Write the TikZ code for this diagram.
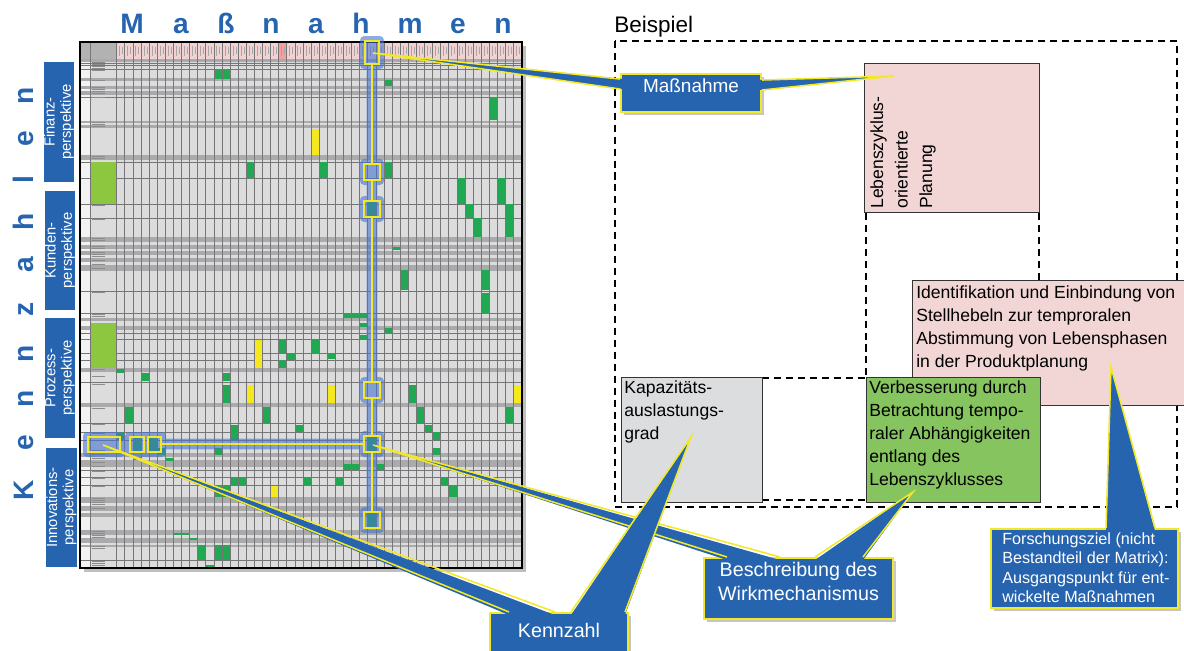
\documentclass[tikz,border=0pt]{standalone}
\usepackage{fontspec}
\setmainfont{Liberation Sans}
\usetikzlibrary{positioning,fit,calc,shadows}

\definecolor{tagblue}{RGB}{38,100,176}
\definecolor{tagyellow}{RGB}{242,232,40}
\definecolor{hlblue}{RGB}{70,115,205}
\definecolor{mbg}{RGB}{220,220,221}
\definecolor{mband}{RGB}{170,170,172}
\definecolor{mline}{RGB}{118,118,120}
\definecolor{mpink}{RGB}{240,210,210}
\definecolor{mgreen}{RGB}{32,168,82}
\definecolor{mlgreen}{RGB}{141,198,63}
\definecolor{myellow}{RGB}{246,232,30}
\definecolor{boxpink}{RGB}{242,214,214}
\definecolor{boxgray}{RGB}{220,221,223}
\definecolor{boxgreen}{RGB}{134,196,96}

\begin{document}
\begin{tikzpicture}[x=0.025cm, y=-0.025cm,
    every node/.style={font=\fontsize{12.5}{16.5}\selectfont},
    bigletter/.style={font=\fontsize{20}{20}\selectfont\bfseries, text=tagblue, inner sep=0pt, anchor=base},
    persp/.style={fill=tagblue, inner sep=0pt},
    persptext/.style={text=white, rotate=90, align=center, inner sep=0pt, font=\fontsize{10.5}{11.5}\selectfont},
    tagbox/.style={fill=tagblue, draw=tagyellow, line width=1.4pt, inner sep=0pt, text=white, align=center,
      drop shadow={shadow xshift=2pt, shadow yshift=-2pt, opacity=0.45}},
    tagarm/.style={fill=tagblue},
    tagedge/.style={draw=tagyellow, line width=1.1pt},
    exbox/.style={draw=black!80, line width=0.6pt, inner sep=0pt},
    extext/.style={align=left, inner sep=0pt, anchor=north west},
    dashline/.style={line width=1.1pt, dash pattern=on 5pt off 3.5pt},
    hlbox/.style={draw=tagyellow, line width=1pt}]
  \clip (0,0) rectangle (1184,651);

  \foreach \x/\l in {132/M,181/a,226/ß,271/n,316/a,361/h,410/m,458/e,503/n}
    \node[bigletter] (ma\x) at (\x,33) {\l};
  \foreach \y/\l in {490/K,443/e,399/n,354/n,309/z,265/a,222/h,180/l,139/e,96/n}
    \node[bigletter, rotate=90] (kz\y) at (33,\y) {\l};

  \node[persp, fit={(44,62) (74,182)}] (fin) {};
  \node[persptext] (fintxt) at (fin.center) {Finanz-\\perspektive};
  \node[persp, fit={(45,191) (75,310)}] (kun) {};
  \node[persptext] (kuntxt) at (kun.center) {Kunden-\\perspektive};
  \node[persp, fit={(45,318) (75,438)}] (pro) {};
  \node[persptext] (protxt) at (pro.center) {Prozess-\\perspektive};
  \node[persp, fit={(46,448) (77,567)}] (inn) {};
  \node[persptext] (inntxt) at (inn.center) {Innovations-\\perspektive};

  \path[fill=mbg, drop shadow={shadow xshift=3pt, shadow yshift=-3pt, opacity=0.5}] (80,42) rectangle (522,568);
  \fill[black!5] (81,59) rectangle (90,567);
  \fill[black!30] (81,43) rectangle (117,59);
  \fill[mpink] (117,43) rectangle (522,59);
  \fill[red!25!mpink] (279,43) rectangle (287,59);
  \foreach \a/\b in {59/62,78/81,86/89,91/95,121/123,125/128,155/160,237/242,245/249,251/255,258/262,265/271,
      318/321,326/330,368/372,403/407,453/457,460/467,497/503,506/511,513/517,530/535,538/543,545/547}
    \fill[mband] (81,\a) rectangle (522,\b);
  \foreach \y in {63,65,69,97,162,178,204,218,291,313,333,339,353,360,382,423,432,440,470,477,485,560}
    \draw[mline, line width=0.4pt] (81,\y) -- (522,\y);
  \foreach \y in {62,64,66,68,70,80,87,89,91,93,97,122,124,126,156,158,163,179,205,219,238,240,246,248,252,254,
      256,260,264,268,292,314,316,325,329,334,341,354,361,369,376,384,408,424,433,450,454,458,462,466,471,478,
      486,498,500,502,504,508,531,533,535,537,546,548,561,563,565}
    \draw[black!45, line width=0.35pt] (92,\y) -- (105,\y);
  \fill[mlgreen] (91,162) rectangle (117,204);
  \fill[mlgreen] (91,323) rectangle (117,368);
  \foreach \c/\a/\b/\n in {12/69/79/2,16/162/178/1,33/80/86/1,46/97/120/1,25/162/178/1,33/162/178/1,42/178/204/1,
      47/178/204/1,43/204/218/1,44/218/237/1,48/204/237/1,34/247/250/1,35/270/290/1,45/270/290/1,45/293/313/1,
      28/313/318/3,30/323/327/1,33/328/333/1,30/335/339/1,24/340/353/1,26/354/359/1,36/385/403/1,37/407/423/1,
      48/407/423/1,38/425/432/1,39/432/440/1,22/425/432/1,39/448/455/1,28/464/470/2,32/464/470/1,23/477/486/1,
      27/477/486/1,40/477/486/1,41/486/497/1,0/369/373/1,3/373/381/1,13/373/381/1,13/385/403/1,20/340/353/1,
      21/353/360/1,20/360/368/1,1/407/423/1,18/407/423/1,14/425/440/1,0/432/440/1,2/437/451/1,4/437/451/1,
      31/201/217/1,31/437/451/1,31/513/528/1,5/448/455/1,12/448/455/1,2/457/460/1,6/458/461/1,14/477/486/2,
      12/486/497/2,7/533/535/2,9/538/540/1,10/545/560/1,12/545/560/2,11/565/567/1}
    \fill[mgreen] ({116.7+8.1*\c},\a) rectangle ({116.7+8.1*(\c+\n)},\b);
  \foreach \c/\a/\b in {24/129/155,26/385/403,49/385/403,16/385/403,17/340/368,19/486/497}
    \fill[myellow] ({116.7+8.1*\c},\a) rectangle ({116.7+8.1*(\c+1)},\b);
  \foreach \k in {0,...,50}
    \draw[mline, line width=0.5pt] ({116.7+8.1*\k},43) -- ({116.7+8.1*\k},567);
  \draw[mline, line width=0.5pt] (90,43) -- (90,567);
  \foreach \k in {0,...,49}
    \draw[black!35, line width=0.3pt] ({119.5+8.1*\k},46) -- ({119.5+8.1*\k},56) ({122.5+8.1*\k},47) -- ({122.5+8.1*\k},54);
  \draw[black, line width=1.6pt] (80,42) rectangle (522,568);

  \begin{scope}[transparency group, opacity=0.6]
    \draw[hlblue, line width=7.5pt] (372,53) -- (372,520) (104,444) -- (372,444);
    \fill[hlblue, rounded corners=3pt] (360,36) rectangle (384,69);
    \foreach \y in {172,209,390,444,520}
      \fill[hlblue, rounded corners=3pt] (360,\y-13) rectangle (384,\y+13);
    \fill[hlblue, rounded corners=3pt] (83,432) rectangle (125,457);
    \fill[hlblue, rounded corners=3pt] (125,432) rectangle (166,457);
  \end{scope}
  \draw[hlbox] (365,41) rectangle (379,64);
  \foreach \y in {172,209,390,444,520}
    \draw[hlbox] (364,\y-8) rectangle (380,\y+8);
  \draw[hlbox] (88,437) rectangle (120,452);
  \draw[hlbox] (130,437) rectangle (144,452);
  \draw[hlbox] (148,437) rectangle (161,452);
  \foreach \a/\b in {64/164,180/201,217/382,398/436,452/512}
    \draw[tagyellow, line width=0.9pt] (372,\a) -- (372,\b);
  \draw[tagyellow, line width=0.9pt] (161,444) -- (364,444);

  \node[anchor=base west, inner sep=0pt, font=\fontsize{16}{16}\selectfont] (beispiel) at (614,32) {Beispiel};
  \draw[dashline] (615,41) rectangle (1177,507);
  \draw[dashline] (866,213) -- (866,377) (1039,213) -- (1039,280) (762,378) -- (866,378) (762,500) -- (866,500);

  \node[exbox, fill=boxpink, fit={(864,63) (1039,212)}] (leb) {};
  \node[extext, rotate=90, font=\fontsize{12.5}{17.5}\selectfont] (lebtxt) at (870,209) {Lebenszyklus-\\orientierte\\Planung};
  \node[exbox, fill=boxpink, fit={(912,280) (1195,405)}] (idf) {};
  \node[extext] (idftxt) at (916,285) {Identifikation und Einbindung von\\Stellhebeln zur temproralen\\Abstimmung von Lebensphasen\\in der Produktplanung};
  \node[exbox, fill=boxgray, fit={(621,377) (762,502)}] (kap) {};
  \node[extext] (kaptxt) at (624,380) {Kapazitäts-\\auslastungs-\\grad};
  \node[exbox, fill=boxgreen, fit={(866,377) (1040,502)}] (ver) {};
  \node[extext] (vertxt) at (869,380) {Verbesserung durch\\Betrachtung tempo-\\raler Abhängigkeiten\\entlang des\\Lebenszyklusses};

  \coordinate (tipTop) at (373,53);
  \coordinate (tipKz) at (103,445);
  \coordinate (tipMid) at (373,445);
  \coordinate (tipLeb) at (894,76);
  \coordinate (tipKap) at (691,437);
  \coordinate (tipVer) at (913,492);
  \coordinate (tipIdf) at (1111,367);

  \node[tagbox, fit={(621,74) (761,112)}, font=\fontsize{13.5}{16}\selectfont] (mass) {Maßnahme};
  \node[tagbox, fit={(704,558) (893,619)}, font=\fontsize{14}{16.5}\selectfont] (besch) {Beschreibung des\\Wirkmechanismus};
  \node[tagbox, fit={(991,529) (1178,608)}] (forsch) {};
  \node[extext, text=white, font=\fontsize{11.5}{13.9}\selectfont] (forschtxt) at (1002,532)
    {Forschungsziel (nicht\\Bestandteil der Matrix):\\Ausgangspunkt für ent-\\wickelte Maßnahmen};
  \node[tagbox, fit={(490,613) (628,662)}, font=\fontsize{14}{16.5}\selectfont] (kenn) {Kennzahl};

  \fill[tagarm] (tipTop) -- ($(mass.north west)+(3,6)$) -- ($(mass.north west)+(3,16)$) -- cycle;
  \draw[tagedge] ($(mass.north west)+(0,6)$) -- (tipTop) -- ($(mass.north west)+(0,16)$);
  \fill[tagarm] (tipLeb) -- ($(mass.north east)+(-3,7)$) -- ($(mass.north east)+(-3,17)$) -- cycle;
  \draw[tagedge] ($(mass.north east)+(0,7)$) -- (tipLeb) -- ($(mass.north east)+(0,17)$);
  \fill[tagarm] (tipMid) -- ($(besch.north west)+(24,3)$) -- ($(besch.north west)+(77,3)$) -- cycle;
  \draw[tagedge] ($(besch.north west)+(24,0)$) -- (tipMid) -- ($(besch.north west)+(77,0)$);
  \fill[tagarm] (tipVer) -- ($(besch.north west)+(112,3)$) -- ($(besch.north west)+(160,3)$) -- cycle;
  \draw[tagedge] ($(besch.north west)+(112,0)$) -- (tipVer) -- ($(besch.north west)+(160,0)$);
  \fill[tagarm] (tipKz) -- ($(kenn.north west)+(20,3)$) -- ($(kenn.north west)+(66,3)$) -- cycle;
  \draw[tagedge] ($(kenn.north west)+(20,0)$) -- (tipKz) -- ($(kenn.north west)+(66,0)$);
  \fill[tagarm] (tipKap) -- ($(kenn.north west)+(82,3)$) -- ($(kenn.north west)+(136,3)$) -- cycle;
  \draw[tagedge] ($(kenn.north west)+(82,0)$) -- (tipKap) -- ($(kenn.north west)+(136,0)$);
  \fill[tagarm] (tipIdf) -- ($(forsch.north west)+(116,3)$) -- ($(forsch.north west)+(165,3)$) -- cycle;
  \draw[tagedge] ($(forsch.north west)+(116,0)$) -- (tipIdf) -- ($(forsch.north west)+(165,0)$);
\end{tikzpicture}
\end{document}
